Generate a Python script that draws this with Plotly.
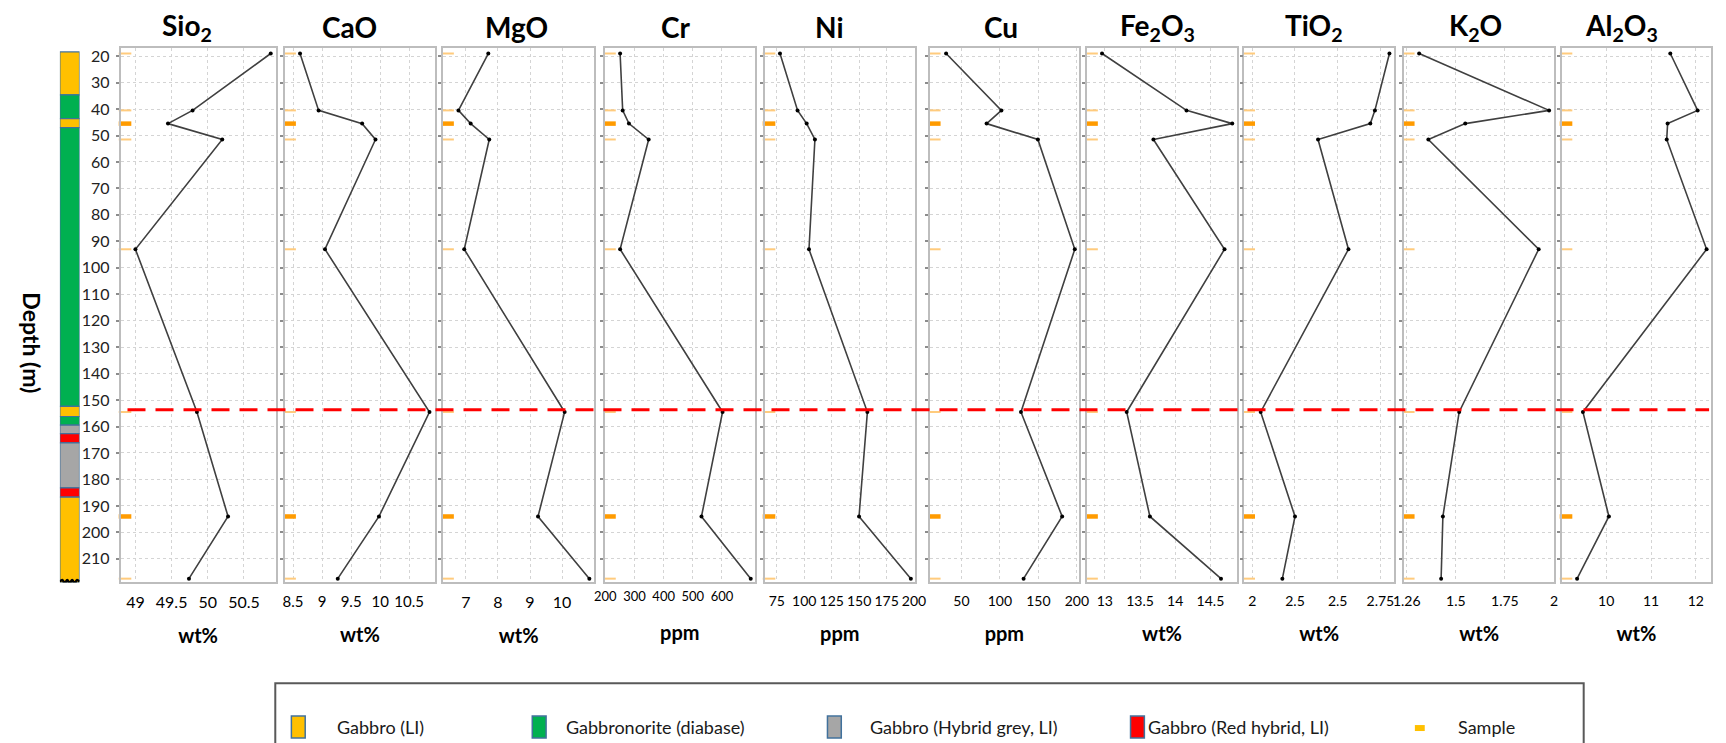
import plotly.graph_objects as go

# ------------------------------------------------------------------ data
sample_depth = [19, 40.5, 45.5, 51.5, 93, 154.5, 194, 217.5]
sample_is_key = [False, False, True, False, False, False, True, False]

SiO2 = [50.87, 49.79, 49.45, 50.20, 49.00, 49.85, 50.28, 49.74]
CaO = [8.62, 8.94, 9.69, 9.92, 9.05, 10.85, 9.98, 9.27]
MgO = [7.70, 6.77, 7.15, 7.73, 6.95, 10.08, 9.25, 10.85]
Cr = [250.7, 259.5, 281.0, 348.6, 250.7, 602.0, 529.7, 698.6]
Ni = [77.9, 93.9, 102.2, 109.7, 104.3, 157.5, 149.9, 197.1]
Cu = [30.1, 101.9, 82.7, 149.3, 197.2, 127.3, 180.8, 130.7]
Fe2O3 = [12.96, 14.16, 14.81, 13.69, 14.70, 13.31, 13.64, 14.65]
TiO2 = [2.803, 2.718, 2.691, 2.385, 2.563, 2.049, 2.25, 2.176]
K2O = [1.313, 1.975, 1.548, 1.360, 1.922, 1.517, 1.434, 1.425]
Al2O3 = [11.43, 12.04, 11.37, 11.35, 12.24, 9.48, 10.06, 9.35]

series = [SiO2, CaO, MgO, Cr, Ni, Cu, Fe2O3, TiO2, K2O, Al2O3]
titles = ["Sio<sub>2</sub>", "CaO", "MgO", "Cr", "Ni", "Cu",
          "Fe<sub>2</sub>O<sub>3</sub>", "TiO<sub>2</sub>", "K<sub>2</sub>O",
          "Al<sub>2</sub>O<sub>3</sub>"]
units = ["wt%", "wt%", "wt%", "ppm", "ppm", "ppm", "wt%", "wt%", "wt%", "wt%"]

tick_vals = [
    [49, 49.5, 50, 50.5],
    [8.5, 9, 9.5, 10, 10.5],
    [7, 8, 9, 10],
    [200, 300, 400, 500, 600],
    [75, 100, 125, 150, 175, 200],
    [50, 100, 150, 200],
    [13, 13.5, 14, 14.5],
    [2, 2.25, 2.5, 2.75],
    [1.25, 1.5, 1.75, 2],
    [10, 11, 12],
]
tick_text = [
    ["49", "49.5", "50", "50.5"],
    ["8.5", "9", "9.5", "10", "10.5"],
    ["7", "8", "9", "10"],
    ["200", "300", "400", "500", "600"],
    ["75", "100", "125", "150", "175", "200"],
    ["50", "100", "150", "200"],
    ["13", "13.5", "14", "14.5"],
    ["2", "2.5", "2.5", "2.75"],
    ["1.26", "1.5", "1.75", "2"],
    ["10", "11", "12"],
]

depth_ticks = list(range(20, 211, 10))
depth_range = [218.93, 16.87]
boundary_depth = 153.7

litho_top = [18.4, 34.6, 43.6, 47.0, 152.4, 156.2, 159.5, 162.7, 166.2, 183.2, 186.7]
litho_bottom = [34.6, 43.6, 47.0, 152.4, 156.2, 159.5, 162.7, 166.2, 183.2, 186.7, 219.0]
litho_unit = ["Gabbro (LI)", "Gabbronorite (diabase)", "Gabbro (LI)",
              "Gabbronorite (diabase)", "Gabbro (LI)", "Gabbronorite (diabase)",
              "Gabbro (Hybrid grey, LI)", "Gabbro (Red hybrid, LI)",
              "Gabbro (Hybrid grey, LI)", "Gabbro (Red hybrid, LI)", "Gabbro (LI)"]
legend_units = ["Gabbro (LI)", "Gabbronorite (diabase)",
                "Gabbro (Hybrid grey, LI)", "Gabbro (Red hybrid, LI)"]
sample_label = "Sample"

# ------------------------------------------------------------------ styles / layout
W, H = 1726, 743
unit_colors = {"Gabbro (LI)": "#FFC000", "Gabbronorite (diabase)": "#00B050",
               "Gabbro (Hybrid grey, LI)": "#A6A6A6", "Gabbro (Red hybrid, LI)": "#FF0000"}
panel_px = [(111, 268), (277.7, 429), (437.7, 590.7), (601.7, 753.3), (763.3, 915.7),
            (930.7, 1081.7), (1090, 1241.8), (1249.2, 1400.9), (1410.8, 1563.3),
            (1570.6, 1722.4)]
x_ranges = [[48.795, 50.937], [8.364, 10.937], [6.292, 11.0], [199.0, 712.2],
            [63.85, 200.9], [8.97, 202.56], [12.748, 14.877], [1.953, 2.830],
            [1.235, 2.002], [9.004, 12.348]]
tick_sizes = [16, 15, 16, 13, 14, 14, 14, 14, 14, 14]
title_px_x = [178, 343, 512, 673, 829, 1003, 1161, 1320, 1483, 1631]
panel_top_px, panel_bot_px = 46, 582
litho_px = (49.5, 69.4)
FONT = "Lato"


def fx(px):
    return px / W


def fy(py):
    return 1 - py / H


fig = go.Figure()
layout = dict(
    width=W, height=H, autosize=False,
    margin=dict(l=0, r=0, t=0, b=0, pad=0),
    paper_bgcolor="white", plot_bgcolor="white",
    showlegend=False, barmode="overlay",
    font=dict(family=FONT, color="#1a1a1a"),
)

ydom = [fy(panel_bot_px), fy(panel_top_px)]
grid_col = "#D4D4D4"
frame_col = "#BDBDBD"

for i in range(10):
    xn = "x" if i == 0 else f"x{i+1}"
    yn = "y" if i == 0 else f"y{i+1}"
    xk = "xaxis" if i == 0 else f"xaxis{i+1}"
    yk = "yaxis" if i == 0 else f"yaxis{i+1}"
    l, r = panel_px[i]
    layout[xk] = dict(
        domain=[fx(l), fx(r)], range=x_ranges[i], anchor=yn,
        tickvals=tick_vals[i], ticktext=tick_text[i],
        tickfont=dict(family=FONT, size=tick_sizes[i], color="#000"),
        ticks="", ticklabelstandoff=5 if i != 3 else 1,
        showgrid=True, gridcolor=grid_col, griddash="dot", gridwidth=1,
        showline=True, linecolor=frame_col, linewidth=1.5, mirror=True,
        zeroline=False, fixedrange=True,
        title=dict(text=units[i], standoff=19 if i != 3 else 23,
                   font=dict(family=FONT, size=20, color="#000", weight="bold")),
    )
    layout[yk] = dict(
        domain=ydom, range=depth_range, anchor=xn,
        tickvals=depth_ticks, showticklabels=(i == 0),
        tickfont=dict(family=FONT, size=16, color="#222"),
        ticks="outside", ticklen=3, tickwidth=2, tickcolor="#8C8C8C",
        ticklabelstandoff=3,
        showgrid=True, gridcolor=grid_col, griddash="dot", gridwidth=1,
        showline=True, linecolor=frame_col, linewidth=1.5, mirror=True,
        zeroline=False, fixedrange=True,
    )
    if i > 0:
        layout[yk]["matches"] = "y"

    vals = series[i]
    fig.add_trace(go.Scatter(
        x=vals, y=sample_depth, mode="lines+markers", xaxis=xn, yaxis=yn,
        line=dict(color="#404040", width=1.6),
        marker=dict(size=4, color="#000"), cliponaxis=False, hoverinfo="skip"))

    # sample marks along the left edge of the panel
    x0, x1 = x_ranges[i]
    mark_x = x0 + (x1 - x0) * 4.5 / (r - l)
    for key, col, lw in [(False, "#FFCB7D", 2), (True, "#FF9B00", 4.5)]:
        dep = [d for d, k in zip(sample_depth, sample_is_key) if k == key]
        fig.add_trace(go.Scatter(
            x=[mark_x] * len(dep), y=dep, mode="markers", xaxis=xn, yaxis=yn,
            marker=dict(symbol="line-ew", size=9, line=dict(color=col, width=lw)),
            cliponaxis=False, hoverinfo="skip"))

# lithology column
layout["xaxis11"] = dict(domain=[fx(litho_px[0]), fx(litho_px[1])], range=[-0.5, 0.5],
                         visible=False, anchor="y11", fixedrange=True)
layout["yaxis11"] = dict(domain=ydom, range=depth_range, visible=False,
                         anchor="x11", matches="y", fixedrange=True)
fig.add_trace(go.Bar(
    x=[0] * len(litho_top),
    y=[b - t for t, b in zip(litho_top, litho_bottom)],
    base=litho_top, width=1, xaxis="x11", yaxis="y11",
    marker=dict(color=[unit_colors[u] for u in litho_unit],
                line=dict(color="#41719C", width=1.2)),
    cliponaxis=False, hoverinfo="skip"))
break_x = [-0.5, -0.375, -0.25, -0.125, 0, 0.125, 0.25, 0.375, 0.5]
break_y = [218.6, 218.0, 219.2, 218.0, 219.2, 218.0, 219.2, 218.0, 218.6]
fig.add_trace(go.Scatter(x=break_x, y=break_y, mode="lines", xaxis="x11", yaxis="y11",
                         line=dict(color="#000", width=2.5, shape="spline"),
                         cliponaxis=False, hoverinfo="skip"))

shapes = []
annotations = []

# boundary line
shapes.append(dict(type="line", xref="paper", yref="y", x0=fx(118), x1=fx(1720),
                   y0=boundary_depth, y1=boundary_depth,
                   line=dict(color="#FF0000", width=3, dash="18px,10px"), layer="above"))

# panel titles
for i in range(10):
    annotations.append(dict(text=titles[i], x=fx(title_px_x[i]), y=fy(25),
                            xref="paper", yref="paper", xanchor="center", yanchor="middle",
                            showarrow=False,
                            font=dict(family=FONT, size=28, color="#000", weight="bold")))

# depth label
annotations.append(dict(text="Depth (m)", x=fx(21), y=fy(342), xref="paper", yref="paper",
                        textangle=90, showarrow=False, xanchor="center", yanchor="middle",
                        font=dict(family=FONT, size=23, color="#000", weight="bold")))

# legend box
leg_top = 683
leg_y = 727
shapes.append(dict(type="rect", xref="paper", yref="paper", x0=fx(267.7), x1=fx(1593),
                   y0=fy(leg_top), y1=fy(820), line=dict(color="#595959", width=2),
                   fillcolor="rgba(0,0,0,0)", layer="above"))
swatch_cx = [291, 535, 834, 1141]
text_x = [328, 560, 868, 1150]
for u, cx, tx in zip(legend_units, swatch_cx, text_x):
    shapes.append(dict(type="rect", xref="paper", yref="paper",
                       x0=fx(cx - 7), x1=fx(cx + 7), y0=fy(leg_y + 11), y1=fy(leg_y - 11),
                       fillcolor=unit_colors[u], line=dict(color="#41719C", width=1.5)))
    annotations.append(dict(text=u, x=fx(tx), y=fy(leg_y), xref="paper", yref="paper",
                            xanchor="left", yanchor="middle", showarrow=False,
                            font=dict(family=FONT, size=18, color="#1a1a1a")))
shapes.append(dict(type="rect", xref="paper", yref="paper",
                   x0=fx(1422), x1=fx(1432), y0=fy(leg_y + 4), y1=fy(leg_y - 2),
                   fillcolor="#FFC000", line=dict(width=0)))
annotations.append(dict(text=sample_label, x=fx(1464), y=fy(leg_y), xref="paper", yref="paper",
                        xanchor="left", yanchor="middle", showarrow=False,
                        font=dict(family=FONT, size=18, color="#1a1a1a")))

layout["shapes"] = shapes
layout["annotations"] = annotations
fig.update_layout(**layout)

fig.write_html("out.html", config={"displayModeBar": False},
               post_script="document.body.style.margin='0';document.body.style.overflow='hidden';")
